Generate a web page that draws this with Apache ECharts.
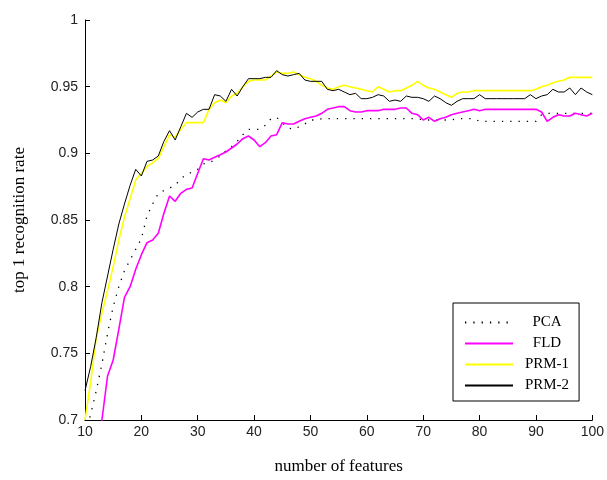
<!DOCTYPE html>
<html>
<head>
<meta charset="utf-8">
<script src="https://cdn.jsdelivr.net/npm/echarts@6/dist/echarts.min.js"></script>
<style>html,body{margin:0;padding:0;background:#fff;}#c{width:607px;height:480px;}</style>
</head>
<body>
<div id="c"></div>
<script>
// number of features: 10 .. 100
var features = [];
for (var f = 10; f <= 100; f++) features.push(f);

var pca = [0.690,0.704,0.722,0.742,0.765,0.785,0.800,0.812,0.820,0.828,
  0.836,0.853,0.862,0.870,0.872,0.874,0.876,0.881,0.884,0.886,
  0.888,0.892,0.893,0.895,0.898,0.902,0.905,0.909,0.914,0.918,
  0.918,0.918,0.921,0.926,0.927,0.923,0.919,0.918,0.920,0.922,
  0.925,0.925,0.926,0.926,0.926,0.926,0.926,0.926,0.926,0.926,
  0.926,0.926,0.926,0.926,0.926,0.926,0.926,0.926,0.926,0.926,
  0.925,0.925,0.925,0.925,0.925,0.925,0.926,0.926,0.926,0.926,
  0.924,0.924,0.924,0.924,0.924,0.924,0.924,0.924,0.924,0.924,
  0.924,0.929,0.930,0.930,0.930,0.930,0.930,0.930,0.930,0.930,0.930];

var fld = [0.640,0.660,0.682,0.700,0.733,0.745,0.768,0.792,0.800,0.813,
  0.824,0.833,0.835,0.840,0.855,0.868,0.864,0.870,0.873,0.874,
  0.885,0.896,0.895,0.897,0.899,0.901,0.904,0.907,0.911,0.913,
  0.910,0.905,0.908,0.913,0.914,0.923,0.922,0.922,0.924,0.926,
  0.927,0.928,0.930,0.933,0.934,0.935,0.935,0.932,0.931,0.931,
  0.932,0.932,0.932,0.933,0.933,0.933,0.934,0.934,0.930,0.929,
  0.925,0.927,0.924,0.926,0.927,0.929,0.930,0.931,0.932,0.933,
  0.932,0.933,0.933,0.933,0.933,0.933,0.933,0.933,0.933,0.933,
  0.933,0.931,0.924,0.927,0.929,0.928,0.928,0.930,0.929,0.928,0.930];

var prm1 = [0.700,0.728,0.762,0.780,0.797,0.815,0.835,0.852,0.866,0.880,
  0.885,0.890,0.893,0.896,0.905,0.914,0.912,0.918,0.923,0.923,
  0.923,0.923,0.933,0.938,0.940,0.938,0.943,0.945,0.950,0.954,
  0.955,0.955,0.955,0.958,0.961,0.960,0.960,0.961,0.959,0.957,
  0.956,0.954,0.951,0.949,0.948,0.950,0.951,0.950,0.949,0.948,
  0.947,0.946,0.950,0.948,0.946,0.947,0.947,0.949,0.951,0.954,
  0.951,0.949,0.948,0.946,0.944,0.942,0.945,0.946,0.946,0.947,
  0.947,0.947,0.947,0.947,0.947,0.947,0.947,0.947,0.947,0.947,
  0.948,0.950,0.951,0.953,0.954,0.955,0.957,0.957,0.957,0.957,0.957];

var prm2 = [0.722,0.740,0.762,0.788,0.808,0.828,0.847,0.862,0.876,0.888,
  0.883,0.894,0.895,0.898,0.909,0.917,0.910,0.920,0.930,0.927,
  0.931,0.933,0.933,0.944,0.943,0.939,0.948,0.943,0.950,0.956,
  0.956,0.956,0.957,0.957,0.962,0.959,0.958,0.959,0.960,0.955,
  0.954,0.954,0.954,0.948,0.947,0.948,0.946,0.944,0.945,0.941,
  0.941,0.942,0.944,0.943,0.939,0.940,0.939,0.943,0.942,0.942,
  0.941,0.939,0.943,0.941,0.938,0.936,0.939,0.941,0.941,0.941,
  0.944,0.941,0.941,0.941,0.941,0.941,0.941,0.941,0.941,0.944,
  0.941,0.943,0.944,0.948,0.946,0.946,0.949,0.944,0.949,0.946,0.944];

var seriesNames = ['PCA', 'FLD', 'PRM-1', 'PRM-2'];

function pairs(vals) {
  return features.map(function (x, i) { return [x, vals[i]]; });
}

var chart = echarts.init(document.getElementById('c'), null, {renderer: 'canvas'});
var sans = 'Liberation Sans';
var serif = 'Liberation Serif';
chart.setOption({
  animation: false,
  backgroundColor: '#fff',
  grid: {left: 85, right: 13, top: 20, bottom: 58, containLabel: false},
  legend: {
    orient: 'vertical',
    left: 453, top: 303,
    width: 127,
    padding: [12, 10, 8, 11],
    itemWidth: 48, itemHeight: 14, itemGap: 6,
    backgroundColor: '#fff',
    borderColor: '#000', borderWidth: 1, borderRadius: 0,
    data: seriesNames,
    itemStyle: {color: 'rgba(0,0,0,0)', borderWidth: 0, borderColor: 'rgba(0,0,0,0)'},
    formatter: function (n) { return '{t|' + n + '}'; },
    textStyle: {
      fontFamily: serif, fontSize: 15, color: '#000',
      rich: {t: {fontFamily: serif, fontSize: 15, color: '#000', width: 58, align: 'center'}}
    }
  },
  xAxis: {
    type: 'value', min: 10, max: 100, interval: 10,
    name: 'number of features', nameLocation: 'middle', nameGap: 38,
    nameTextStyle: {fontFamily: serif, fontSize: 17, color: '#000'},
    axisLine: {show: true, onZero: false, lineStyle: {color: '#000', width: 1}},
    axisTick: {show: true, inside: true, length: 5, lineStyle: {color: '#000'}},
    axisLabel: {fontFamily: sans, fontSize: 14, color: '#222', margin: 5},
    splitLine: {show: false}
  },
  yAxis: {
    type: 'value', min: 0.7, max: 1, interval: 0.05,
    name: 'top 1 recognition rate', nameLocation: 'middle', nameGap: 57,
    nameTextStyle: {fontFamily: serif, fontSize: 17, color: '#000'},
    axisLine: {show: true, onZero: false, lineStyle: {color: '#000', width: 1}},
    axisTick: {show: true, inside: true, length: 5, lineStyle: {color: '#000'}},
    axisLabel: {fontFamily: sans, fontSize: 14, color: '#222', margin: 7},
    splitLine: {show: false}
  },
  series: [
    {name: 'PCA', type: 'line', data: pairs(pca), symbol: 'none', clip: true,
     lineStyle: {color: '#000', width: 1.3, type: [1.3, 7]}, itemStyle: {color: '#000'}},
    {name: 'FLD', type: 'line', data: pairs(fld), symbol: 'none', clip: true,
     lineStyle: {color: '#ff00ff', width: 1.6}, itemStyle: {color: '#ff00ff'}},
    {name: 'PRM-1', type: 'line', data: pairs(prm1), symbol: 'none', clip: true,
     lineStyle: {color: '#ffff00', width: 1.6}, itemStyle: {color: '#ffff00'}},
    {name: 'PRM-2', type: 'line', data: pairs(prm2), symbol: 'none', clip: true,
     lineStyle: {color: '#000', width: 1}, itemStyle: {color: '#000'}}
  ]
});
</script>
</body>
</html>
